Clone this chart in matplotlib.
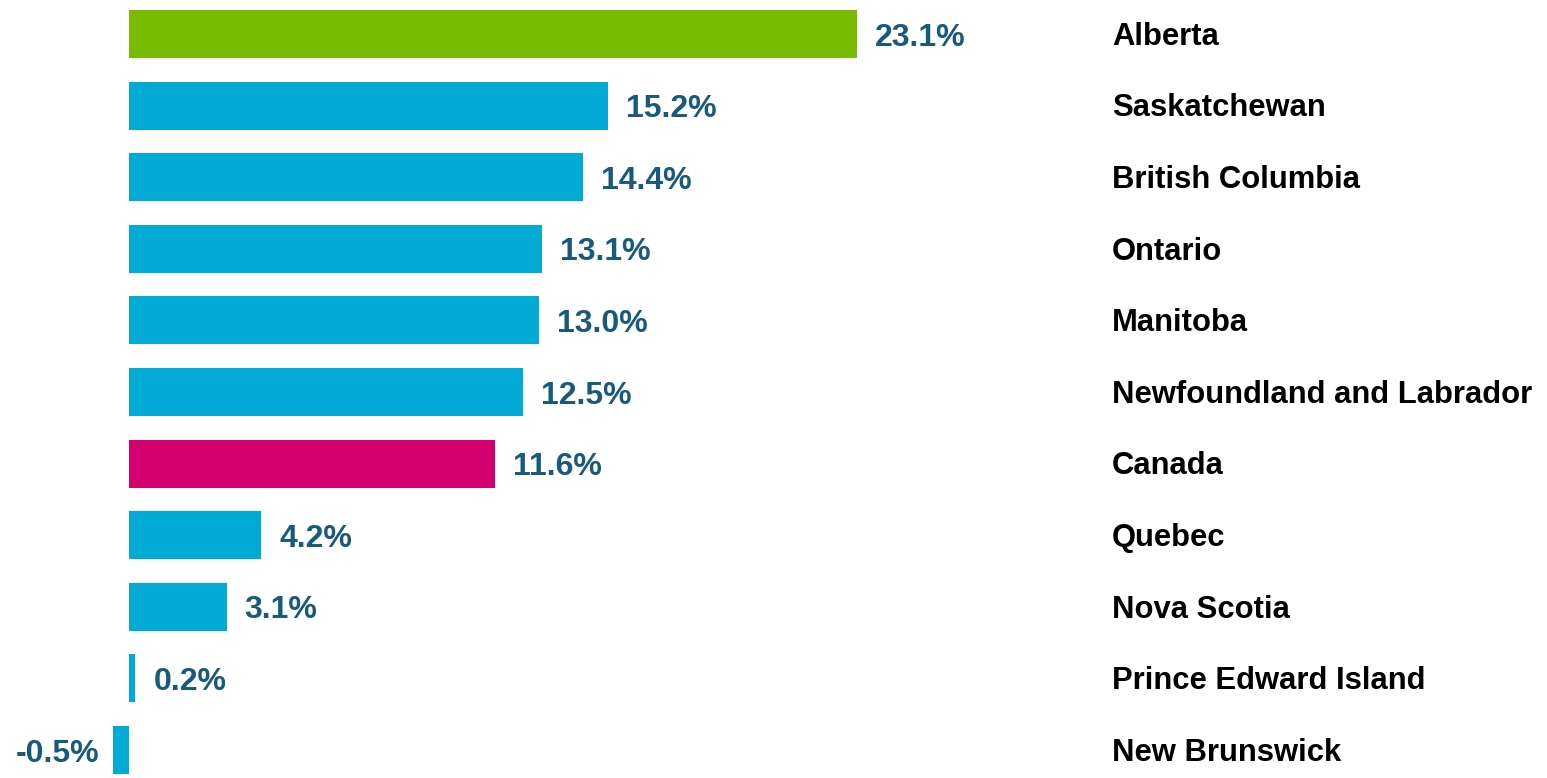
import matplotlib.pyplot as plt
import matplotlib.transforms as mtransforms

provinces = ['Alberta', 'Saskatchewan', 'British Columbia', 'Ontario', 'Manitoba',
             'Newfoundland and Labrador', 'Canada', 'Quebec', 'Nova Scotia',
             'Prince Edward Island', 'New Brunswick']
growth = [23.1, 15.2, 14.4, 13.1, 13.0, 12.5, 11.6, 4.2, 3.1, 0.2, -0.5]

blue = '#00AAD4'
colors = [blue] * len(provinces)
colors[0] = '#77BC00'
colors[provinces.index('Canada')] = '#D4006F'
value_color = '#175A7C'

plt.rcParams['font.family'] = ['Liberation Sans', 'DejaVu Sans']

fig = plt.figure(figsize=(15.47, 7.78), dpi=100)
ax = fig.add_axes([0, 0, 1, 1])

px = 728 / 23.1  # pixels per percent
ax.set_xlim(-129 / px, (1547 - 129) / px)
step = 71.6
ax.set_ylim(10 + (778 - 750) / step, -34 / step)

ypos = list(range(len(provinces)))
ax.barh(ypos, growth, height=0.67, color=colors)

for y, v in zip(ypos, growth):
    if v >= 0:
        ax.text(v + 18 / px, y + 0.05, f'{v:.1f}%', ha='left', va='center',
                fontsize=23, fontweight='bold', color=value_color)
    else:
        ax.text(v - 14 / px, y + 0.05, f'{v:.1f}%', ha='right', va='center',
                fontsize=23, fontweight='bold', color=value_color)

trans = mtransforms.blended_transform_factory(ax.transAxes, ax.transData)
for y, name in zip(ypos, provinces):
    ax.text(1112 / 1547, y + 0.04, name, transform=trans, ha='left', va='center',
            fontsize=22.3, fontweight='bold', color='black')

ax.axis('off')
fig.savefig('out.png', dpi=100)
